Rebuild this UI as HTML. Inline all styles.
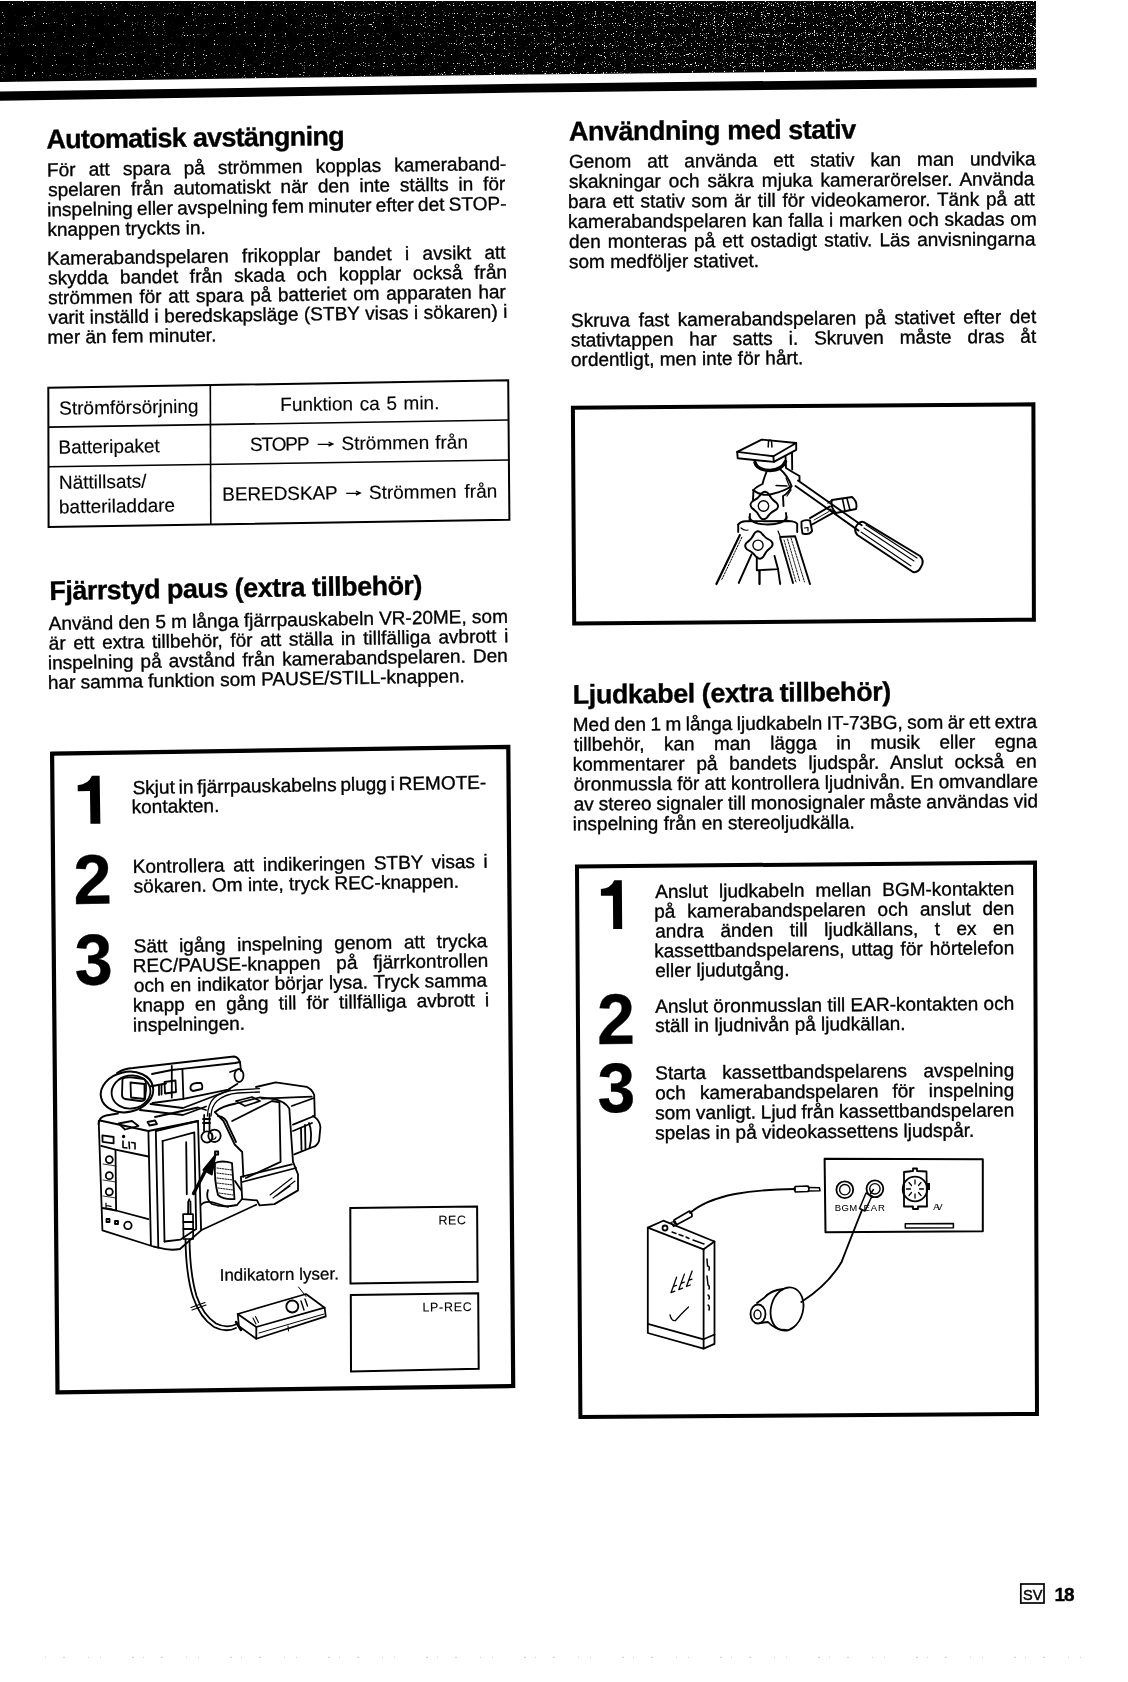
<!DOCTYPE html>
<html><head><meta charset="utf-8"><title>Page 18</title>
<style>
html,body{margin:0;padding:0;background:#fff;width:1128px;height:1682px;overflow:hidden}
svg{display:block;filter:grayscale(1)}
text{font-family:"Liberation Sans",sans-serif;fill:#000;white-space:pre;stroke:#000;stroke-width:0.35px}
</style></head><body>
<svg width="1128" height="1682" viewBox="0 0 1128 1682">
<!-- header band -->
<defs>
<linearGradient id="bandg" x1="0" y1="0" x2="1" y2="0">
<stop offset="0" stop-color="#000"/><stop offset="0.35" stop-color="#060606"/><stop offset="0.7" stop-color="#0f0f0f"/><stop offset="1" stop-color="#161616"/>
</linearGradient>
<clipPath id="bandclip"><polygon points="0,1 1036,1 1036,69.6 530,74.4 0,82"/></clipPath>
<filter id="spk" x="0" y="0" width="1036" height="82" filterUnits="userSpaceOnUse" color-interpolation-filters="sRGB">
<feTurbulence type="fractalNoise" baseFrequency="0.9" numOctaves="1" seed="11" result="n"/>
<feColorMatrix in="n" type="matrix" values="1 0 0 0 0  1 0 0 0 0  1 0 0 0 0  0 0 0 0 1" result="g"/>
<feComposite in="g" in2="SourceGraphic" operator="arithmetic" k1="0" k2="1" k3="1" k4="0" result="s"/>
<feColorMatrix in="s" type="matrix" values="0 0 0 0 1  0 0 0 0 1  0 0 0 0 1  12 0 0 0 -8.4"/>
</filter>
</defs>
<polygon points="0,1 1036,1 1036,69.6 530,74.4 0,82" fill="#000"/>
<g clip-path="url(#bandclip)"><rect x="0" y="0" width="1036" height="82" fill="url(#bandg)" filter="url(#spk)"/></g>
<polygon points="0,91.6 530,83.7 1036.7,78.1 1036.7,87.3 530,92.4 0,100.8" fill="#000"/>
<!-- table -->
<g fill="none" stroke="#000" stroke-width="2">
<polygon points="48.3,387.7 508.2,380.3 509.4,519.8 48.6,527.1"/>
<line x1="210.3" y1="385" x2="210.8" y2="524.5" stroke-width="1.6"/>
<line x1="48.4" y1="427.1" x2="508.6" y2="420" stroke-width="1.6"/>
<line x1="48.5" y1="466.8" x2="509" y2="460" stroke-width="1.6"/>
<path d="M317.7 444.3 L332 444.1 M328.5 442 L332.9 444.1 L328.5 446.2" stroke-width="1.3"/>
<path d="M346.2 493.3 L359.4 493.1 M355.9 491 L360.3 493.1 L355.9 495.2" stroke-width="1.3"/>
</g>
<!-- left steps box -->
<polygon points="52.1,753.7 508.3,746.8 513.2,1386 57.5,1392.3" fill="none" stroke="#000" stroke-width="4.2"/>
<!-- REC boxes -->
<g fill="none" stroke="#000" stroke-width="2">
<polygon points="350.3,1208.1 477.1,1206.5 477.6,1281.8 350.5,1283.6"/>
<polygon points="350.8,1295 478.2,1293.2 478.7,1368.7 351,1371.6"/>
</g>
<!-- tripod box -->
<polygon points="572.9,407.8 1033.4,404.3 1033.9,619.7 574.2,623.5" fill="none" stroke="#000" stroke-width="4"/>
<!-- right steps box -->
<polygon points="577,866.5 1035,862.5 1037,1413.9 580.4,1417" fill="none" stroke="#000" stroke-width="4"/>
<!-- footer SV box -->
<rect x="1020.8" y="1584" width="23.2" height="19" fill="none" stroke="#000" stroke-width="1.7"/>
<!-- digit 1 paths -->
<path d="M92.3 775.9 L100 775.9 L100 823.8 L90.1 823.8 L90.1 791 L77.9 791 L77.9 785 Q88.5 784.5 92.3 775.9 Z" transform="rotate(-0.86 89 800)"/>
<path d="M614.5 880.3 L622 880.3 L622 929.1 L613 929.1 L613 895.7 L601 895.7 L601 888.8 Q611 888.5 614.5 880.3 Z" transform="rotate(-0.46 611 905)"/>
<g id="tripod" fill="none" stroke="#000" stroke-width="1.9" stroke-linejoin="round" stroke-linecap="round">
<path d="M737.2 451.9 L761.7 439.6 L796.2 443 L773.4 456.2 Z"/>
<path d="M737.2 451.9 L737.7 458.3 L773.8 461.9 L796.2 449.8 L796.2 443"/>
<path d="M773.4 456.2 L773.8 461.9"/>
<path d="M768.2 447 L768.5 441.5 Q770 438.5 771.6 441.5 L771.9 447" stroke-width="1.5"/>
<path d="M755 462.5 Q757 470 770 470.5 Q782 470 785.5 461.5" stroke-width="3.4"/>
<path d="M785.5 456 L786 468 L792.5 472 L799.5 476 L799.5 481"/>
<path d="M792 453 L792.2 469.5"/>
<path d="M767 470.5 Q764 478 762.5 484 Q756 487 753.5 490 L753 500"/>
<path d="M780 469 Q788 476 791.5 486 Q789 493 783 496 L783.5 506"/>
<path d="M776 485.5 L787 486" stroke-width="1.3"/>
<path d="M753 490 Q762 497 772 494 Q785 491 791.5 486"/>
<path d="M786 478 L791 490 L787 496" stroke-width="1.2"/>
<path d="M768.5 493.7 Q771.2 499.5 776.6 502.9 Q779.8 506.6 776.1 509.7 Q770.3 512.4 766.9 517.8 Q763.2 521.0 760.1 517.3 Q757.4 511.5 752.0 508.1 Q748.8 504.4 752.5 501.3 Q758.3 498.6 761.7 493.2 Q765.4 490.0 768.5 493.7 Z" stroke-width="1.9"/>
<circle cx="763.5" cy="506" r="5.2" stroke-width="1.4"/>
<path d="M749.4 517 Q751 524.5 768 524.5 Q785 524 786.6 517" stroke-width="1.8"/>
<path d="M750 514 L749.5 520 M786 513 L786.6 519"/>
<path d="M738.2 524.5 Q741 521 746 521.3 L789 521 Q796 521.5 797.2 524 L797.2 532"/>
<path d="M738.2 524.5 L738.2 532"/>
<path d="M741 528 Q744 531 748 530" stroke-width="1.2"/>
<path d="M778 531 L780 536" stroke-width="1.2"/>
<path d="M761.2 532.7 Q764.8 538.0 770.6 540.5 Q774.3 543.6 771.2 547.3 Q765.9 550.9 763.4 556.7 Q760.3 560.4 756.6 557.3 Q753.0 552.0 747.2 549.5 Q743.5 546.4 746.6 542.7 Q751.9 539.1 754.4 533.3 Q757.5 529.6 761.2 532.7 Z" stroke-width="1.9"/>
<circle cx="758" cy="545.2" r="5.1" stroke-width="1.4"/>
<path d="M739.8 535.1 L716.4 584" stroke-width="2.2"/>
<path d="M741.9 537.2 L721.7 579.8" stroke-width="1" stroke-dasharray="1.6 1.4"/>
<path d="M751.5 554.3 L738.7 583"/>
<path d="M756.8 557 L756.8 570.2 L778 569.1 L774.5 556"/>
<path d="M759.5 571.3 L759.5 584" stroke-width="2.3"/>
<path d="M778 569.1 L780.2 584"/>
<path d="M780.2 538.3 L793 583"/>
<path d="M780 537 L795.1 536.2 L810 584"/>
<path d="M784 540 L796 582 M787.5 539 L800 582 M791 538 L804.5 582" stroke-width="0.9" stroke-dasharray="2 1.2"/>
<path d="M798 480.5 L861.7 525.3"/>
<path d="M795.5 486 L858.5 530.6"/>
<path d="M863.8 522.1 L920 556 Q925 561 921 567 Q918 573 913 572 L857.4 535 Q853 530 857 525 Q860 521 863.8 522.1 Z" stroke-width="2"/>
<path d="M864 528 L914 561 M861 532 L911 566 M866 525 L917 558" stroke-width="1.1"/>
<path d="M810 518.1 L830 506.4"/>
<path d="M812.1 524.5 L833 512.8"/>
<path d="M814 520 L829 511.5" stroke-width="0.9"/>
<path d="M801.5 521.5 Q806 519.5 810 520.5 L812.1 531 Q810 534.5 805 534 L802.5 533.5 Q801 527 801.5 521.5 Z"/>
<path d="M804.5 528 L808 527.5 L808 531" stroke-width="1.2"/>
<path d="M832 500 L852 497 Q858 502 856 509 L836 513 Q830 507 832 500 Z"/>
<path d="M842.5 499 L845 511 M847 498.5 L850 510" stroke-width="1.6"/>
<path d="M828 503 L832 500 M830 509 L836 513" stroke-width="1.3"/>
</g>
<g id="camcorder" fill="none" stroke="#000" stroke-width="1.8" stroke-linejoin="round" stroke-linecap="round">
<!-- eyecup -->
<ellipse cx="127" cy="1092" rx="26.5" ry="20" transform="rotate(-12 127 1092)" stroke-width="2"/>
<ellipse cx="131" cy="1092" rx="19.5" ry="16.5" transform="rotate(-10 131 1092)"/>
<path d="M122.5 1079 Q125 1077 133 1077.5 L144 1079 Q146.5 1080 146 1090 L145 1099 Q144 1101.5 140 1101 L125 1099 Q122 1098 122 1095 Z"/>
<path d="M130.5 1082.5 L144.5 1084 L144.5 1099 L131 1097.5 Z" stroke-width="1.8"/>
<!-- viewfinder tube -->
<path d="M117 1073 Q124 1068.5 133 1068 L234 1056.5 Q238 1057 240 1062 L241 1071"/>
<path d="M152 1074 L171.8 1070 L182.2 1068.8 L235.2 1063 L240 1062"/>
<path d="M171.8 1066 L171.8 1097.6"/>
<path d="M182.4 1068.8 L183.4 1098.8"/>
<path d="M152.5 1103 L183.4 1098.8 L228.3 1089.6 L237.5 1083.8"/>
<path d="M150 1086.5 L166 1083.5"/>
<path d="M164.5 1082 L175.5 1080.5 L176 1092 L165 1093.5 Z" stroke-width="1.8"/>
<path d="M159 1086 L159 1095 M161.5 1085 L161.5 1094.5"/>
<path d="M190.5 1087 Q191 1083.5 197 1083 L201 1083 Q203 1085.5 202 1089 L193 1091 Q190 1090.5 190.5 1087 Z"/>
<ellipse cx="239" cy="1075.5" rx="4.5" ry="6.5" stroke-width="1.8"/>
<path d="M230 1072 L236 1070"/>
<path d="M150.5 1104 L183 1108 L230 1090"/>
<path d="M140 1110 L183 1115 L206 1106.5"/>
<!-- body top -->
<path d="M98.5 1124 Q99 1117 106 1115.5 L118 1113.5"/>
<path d="M100 1120.5 L148.4 1131 L198 1121"/>
<path d="M118.6 1123.5 L132 1121 L138.5 1126 L125 1129.5 Z"/>
<path d="M147.5 1122 L155 1120.5 L157 1124 L149.5 1125.5 Z"/>
<path d="M155 1117 L198 1107.5 L206 1110"/>
<!-- body front panel -->
<path d="M98.7 1121 L102.4 1230.3 L153.3 1246.5 L158.3 1247.7 Q170 1251 180 1249 L201.1 1230.3" stroke-width="1.8"/>
<path d="M148.4 1131 L150.9 1245.2"/>
<path d="M155.8 1131 L158.3 1247.7"/>
<path d="M162.6 1141 L164.5 1241.5"/>
<path d="M155.8 1131 L198 1121 L201.1 1230.3" stroke-width="1.8"/>
<path d="M162.6 1141 L194.3 1132.3 L196.2 1229.1 L180.6 1239.6 L164.5 1241.5"/>
<path d="M186.2 1142.2 L186.8 1194.3"/>
<path d="M101.2 1145.9 L115.5 1149.6 L148.4 1156.5"/>
<path d="M115.5 1149.6 L116.1 1210.5 L148.4 1219.2"/>
<path d="M102.4 1208 L116.1 1210.5"/>
<path d="M102.4 1135.4 L113.6 1137 L113.6 1143.4 L102.6 1141.8 Z"/>
<path d="M123 1141 L123 1147.5 L127 1148 M129 1142 L129.5 1148.5 M131.5 1142.5 L135 1143 L135 1149" stroke-width="1.6"/>
<circle cx="123.6" cy="1136.5" r="0.8" fill="#000"/>
<circle cx="109.3" cy="1159.6" r="3.5"/>
<circle cx="109.3" cy="1175.7" r="3.5"/>
<circle cx="109.3" cy="1191.8" r="3.5" stroke-width="1.8"/>
<path d="M103 1164 L116 1166 M103 1180 L116 1182 M103 1196 L116 1198" stroke-width="0.8"/>
<path d="M106 1203 L106 1208 L112 1209 M106 1205.5 L111 1206.3" stroke-width="1.2"/>
<rect x="106.5" y="1219" width="3" height="3" />
<rect x="115" y="1221" width="3" height="3" />
<circle cx="127.9" cy="1225.4" r="3.7"/>
<!-- grip / lens block -->
<path d="M256 1087 L275.7 1082.4 L306.7 1086.8 Q312 1089 314.2 1095 L314.8 1116"/>
<path d="M262 1098.6 L311.7 1096.7"/>
<path d="M291.8 1106 L314 1098"/>
<path d="M293 1124.6 L314.2 1116"/>
<path d="M293 1131 L312 1123"/>
<path d="M312.9 1116 Q320 1120 320.4 1127.1 L319.1 1140.8 Q317 1146 312.9 1147 L294.3 1154.4"/>
<path d="M301 1128 L301.5 1150 M305 1125 L305.5 1149 M309 1123 Q313 1133 309.5 1148"/>
<path d="M215 1112 Q222 1106 236 1103.5 L259.5 1097.5 L272 1098.6"/>
<path d="M207.4 1116 Q208 1104 214 1098 Q222 1091 236 1090 L259.5 1088.6" stroke-width="1.3"/>
<path d="M211 1116 Q211.5 1106 217 1101 Q225 1094 238 1093 L259.5 1092" stroke-width="1.3"/>
<path d="M214.9 1112.2 L223.5 1121 L234.7 1144.5 L242.2 1152 L243.4 1176.8"/>
<path d="M218 1116 Q226 1117 228 1125 L236 1142"/>
<path d="M232.2 1121 L272 1101 L279.4 1102.3 L280.6 1161.9 L245.9 1178"/>
<path d="M272 1098.6 Q285 1101 289.3 1108.5 L293 1161.9 L298 1174.3 L298 1190.4 L274.4 1204.1 L259.5 1205.3 L257 1200.4 L242.2 1199.1 L240.9 1176.8 L291.8 1164.4"/>
<path d="M242 1182 L296 1168"/>
<path d="M270 1195 L292 1178 M273 1198 L295 1181 M276 1196 L290 1186" stroke-width="1.1"/>
<path d="M236 1101 L252 1097 L260 1101 L245 1106 Z"/>
<!-- earphone jack / cable plug on top -->
<path d="M204.2 1115 L204 1131 M209.5 1114 L209.5 1131"/>
<path d="M203 1119 L210 1119 M203 1123 L210 1123"/>
<circle cx="207" cy="1137" r="5.6" stroke-width="1.7"/>
<circle cx="214.5" cy="1135.8" r="6.2"/>
<path d="M212 1133 L212 1139 Q215 1140 216 1137" stroke-width="1.1"/>
<rect x="215" y="1151.5" width="3.2" height="3.2"/>
<!-- arrow -->
<path d="M193.5 1193.5 L208 1166" stroke-width="3.4"/>
<path d="M203 1170 L216 1154 L212 1175 Z" fill="#000" stroke-width="1.2"/>
<!-- hatched pad -->
<path d="M215 1163 Q222 1160 232 1163 L234.5 1199 Q224 1200 218 1195 Q214 1180 215 1163 Z"/>
<path d="M217 1168 L232 1170 M217 1173 L232 1175 M217 1178 L233 1180 M217 1183 L233 1185 M218 1188 L233 1190 M219 1193 L233 1195" stroke-width="0.9" stroke-dasharray="1.5 1.2"/>
<path d="M201 1205 Q205 1200 215 1203 L228 1207"/>
<!-- lower right body edge -->
<path d="M201.1 1230.3 L256.3 1204.7"/>
<path d="M235 1181 L241 1190 M242 1199 L237 1205 Q222 1208 212 1204 Q205 1199 208 1190"/>
<!-- plug and cable -->
<path d="M189.3 1199.3 L188.2 1202 L188.1 1214 M190.4 1201.5 L190.6 1214.2"/>
<path d="M183.1 1214.2 L193 1214.2 L193.2 1239 L183.5 1239 Z" stroke-width="1.7"/>
<path d="M183.3 1222 L193 1222 M183.4 1229 L193.1 1229"/>
<path d="M185.5 1239.5 Q186 1275 193 1297 Q200 1318 214 1327 Q226 1333 236 1328"/>
<path d="M189.5 1239.5 Q190 1274 196.5 1296 Q203 1315 216 1323.5 Q227 1329 237 1324"/>
<path d="M191 1307.5 L205 1302.5 M192 1310 L206 1305" stroke-width="1.2"/>
<!-- remote -->
<path d="M237.7 1314 L306 1294 L324.6 1307.7 L325.8 1316.4 L256.3 1338.7 L239 1326.3 Z" stroke-width="1.7"/>
<path d="M237.7 1314 L256.3 1327 L324.6 1307.7"/>
<path d="M256.3 1327 L256.3 1338.7"/>
<path d="M259 1333 L324 1314 M288 1326 L288.5 1331" stroke-width="1"/>
<circle cx="292.3" cy="1306.5" r="6"/>
<path d="M301 1301 L304 1310 M305 1299 L307.5 1306" stroke-width="1.4"/>
<path d="M298.5 1287 L306 1296.5" stroke-width="1"/>
<path d="M253 1318 L256 1324 M255.5 1316.5 L258.5 1322.5" stroke-width="1.1"/>
<path d="M236 1322 L241 1330" stroke-width="2.5"/>
</g>
<g id="audio" fill="none" stroke="#000" stroke-width="1.8" stroke-linejoin="round" stroke-linecap="round">
<!-- connector panel -->
<path d="M824.6 1158.7 L982.8 1159.3 L982.8 1231.3 L825.5 1232.2 Z" stroke-width="2"/>
<circle cx="844.8" cy="1189.7" r="8.4" stroke-width="1.8"/>
<circle cx="844.8" cy="1189.7" r="5.2" stroke-width="1.4"/>
<circle cx="874.9" cy="1188.8" r="8.4" stroke-width="1.8"/>
<circle cx="874.9" cy="1188.8" r="5.2" stroke-width="1.4"/>
<path d="M904 1172 L913 1171 L913 1168.5 L917 1168.5 L917 1171 L926.5 1171.5 L927 1206.5 L918 1206.5 L918 1209 L913 1209 L913 1206.5 L904 1206.5 Z" stroke-width="1.8"/>
<circle cx="915" cy="1189" r="12.3" stroke-width="1.8"/>
<path d="M915 1180 L915 1184 M921 1182.5 L918.5 1185.5 M923.5 1189 L919.5 1189 M921 1195.5 L918.5 1192.5 M915 1198 L915 1194 M909 1195.5 L911.5 1192.5 M906.5 1189 L910.5 1189 M909 1182.5 L911.5 1185.5" stroke-width="1.3"/>
<rect x="927" y="1183" width="3" height="7" fill="#000" stroke="none"/>
<path d="M905.3 1223.8 L953.4 1223.6 L953.4 1227.8 L905.3 1228 Z" stroke-width="1.5"/>
<!-- BGM cable/plug -->
<path d="M795.3 1186.5 L808 1186 Q810 1188.5 808 1191.5 L795.5 1192 Q793.5 1189 795.3 1186.5 Z" stroke-width="1.7"/>
<path d="M808.5 1187.5 L819.5 1187.8 L820 1190.8 L808.5 1191" stroke-width="1.5"/>
<path d="M795 1189 Q760 1189.5 735 1194 Q705 1200 690 1213" stroke-width="1.9"/>
<path d="M674 1220 L689.5 1211 Q692.5 1213 692 1216.5 L677 1224.5 Q673 1223 674 1220 Z" stroke-width="1.7"/>
<path d="M671 1222.5 L675 1221 L677 1225 L673.5 1226.5 Z" stroke-width="1.3"/>
<!-- EAR cable/plug -->
<path d="M866 1193 L872 1196 L865 1211 L859.5 1208.5 Z" stroke-width="1.5"/>
<path d="M870.5 1193.5 L873.5 1189.5" stroke-width="1.5"/>
<path d="M862 1210 Q850 1240 841.7 1261.7 Q828 1285 801.3 1302" stroke-width="1.9"/>
<!-- earphone -->
<ellipse cx="787" cy="1309" rx="16" ry="22" transform="rotate(15 787 1309)" stroke-width="1.8"/>
<path d="M783 1289 Q771 1290 764 1298 L757 1303"/>
<path d="M786 1330 Q775 1330 768 1322 L760 1323"/>
<ellipse cx="758" cy="1314" rx="7.5" ry="9.5" stroke-width="1.8"/>
<ellipse cx="757.5" cy="1314.5" rx="3.5" ry="4.5" stroke-width="1.4"/>
<!-- cassette player -->
<path d="M647.8 1227.6 L663.3 1220.7 L714.5 1241.5 L703.6 1249.3 Z" stroke-width="1.8"/>
<path d="M647.8 1227.6 L647.8 1333 L703.6 1348.6 L714.5 1343.9 L714.5 1241.5" stroke-width="1.8"/>
<path d="M703.6 1249.3 L703.6 1348.6" stroke-width="1.8"/>
<path d="M647.8 1323.8 L703.6 1339.3 L714.5 1334.5"/>
<circle cx="665" cy="1228" r="2.5"/>
<path d="M672 1232 L676 1233.5 M679 1234.5 L683 1236 M686 1237 L689 1238.5 M693 1240 L704 1244" stroke-width="1.4"/>
<path d="M707 1259 L707.5 1266 Q710 1266 709 1270 M707 1276 L708 1285 Q710 1286 709 1289 M708 1295 Q710 1296 709 1299 M708 1305 Q710 1306 709 1310" stroke-width="1.5"/>
<path d="M671 1292.7 L676.6 1277.2 M678.8 1289.6 L684.4 1274.1 M686.5 1286.5 L692.1 1271 M671 1292.7 L674.8 1291.2 M678.8 1289.6 L682.6 1288.1 M686.5 1286.5 L690.3 1285 M673.2 1286.5 L676.5 1285.3 M681 1283.4 L684.3 1282.2 M688.7 1280.3 L692 1279.1" stroke-width="1.3"/>
<path d="M670 1315 Q671.5 1321.5 675.5 1320.5 Q682 1313 688.5 1307" stroke-width="1.3"/>
</g>

<line x1="45" y1="1657.3" x2="1110" y2="1657.3" stroke="#c8c8c8" stroke-width="1" stroke-dasharray="1 17 2 23 1 11 1 31 2 9"/>

<g class="txt">
<text x="46.40" y="148.60" transform="rotate(-0.688 46.40 148.60)" style="font-size:27px;font-weight:700;letter-spacing:-0.726px">Automatisk avstängning</text>
<text x="47.10" y="176.40" transform="rotate(-0.791 47.10 176.40)" style="font-size:19px;word-spacing:7.895px">För att spara på strömmen kopplas kameraband-</text>
<text x="48.20" y="196.30" transform="rotate(-0.791 48.20 196.30)" style="font-size:19px;word-spacing:4.612px">spelaren från automatiskt när den inte ställts in för</text>
<text x="47.30" y="216.20" transform="rotate(-0.791 47.30 216.20)" style="font-size:19px;word-spacing:-1.030px">inspelning eller avspelning fem minuter efter det STOP-</text>
<text x="47.40" y="236.10" transform="rotate(-0.791 47.40 236.10)" style="font-size:19px">knappen tryckts in.</text>
<text x="47.10" y="264.90" transform="rotate(-0.773 47.10 264.90)" style="font-size:19px;word-spacing:8.068px">Kamerabandspelaren frikopplar bandet i avsikt att</text>
<text x="48.20" y="284.60" transform="rotate(-0.773 48.20 284.60)" style="font-size:19px;word-spacing:6.405px">skydda bandet från skada och kopplar också från</text>
<text x="48.30" y="304.30" transform="rotate(-0.773 48.30 304.30)" style="font-size:19px;word-spacing:1.362px">strömmen för att spara på batteriet om apparaten har</text>
<text x="48.40" y="324.00" transform="rotate(-0.773 48.40 324.00)" style="font-size:19px;word-spacing:0.285px">varit inställd i beredskapsläge (STBY visas i sökaren) i</text>
<text x="47.49" y="343.70" transform="rotate(-0.773 47.49 343.70)" style="font-size:19px">mer än fem minuter.</text>
<text x="59.30" y="414.80" transform="rotate(-0.917 59.30 414.80)" style="font-size:19px;stroke-width:0.15px">Strömförsörjning</text>
<text x="58.50" y="453.80" transform="rotate(-0.917 58.50 453.80)" style="font-size:19px;stroke-width:0.15px">Batteripaket</text>
<text x="59.00" y="489.00" transform="rotate(-0.917 59.00 489.00)" style="font-size:19px;stroke-width:0.15px">Nättillsats/</text>
<text x="59.00" y="513.40" transform="rotate(-0.917 59.00 513.40)" style="font-size:19px;stroke-width:0.15px">batteriladdare</text>
<text x="280.30" y="411.10" transform="rotate(-0.688 280.30 411.10)" style="font-size:19px;stroke-width:0.15px;word-spacing:1.314px">Funktion ca 5 min.</text>
<text x="249.90" y="451.00" transform="rotate(-0.688 249.90 451.00)" style="font-size:19px;stroke-width:0.15px;letter-spacing:-1.097px">STOPP</text>
<text x="341.60" y="449.90" transform="rotate(-0.688 341.60 449.90)" style="font-size:19px;stroke-width:0.15px;word-spacing:0.715px">Strömmen från</text>
<text x="222.30" y="500.70" transform="rotate(-0.688 222.30 500.70)" style="font-size:19px;stroke-width:0.15px;letter-spacing:-0.085px">BEREDSKAP</text>
<text x="369.00" y="499.00" transform="rotate(-0.688 369.00 499.00)" style="font-size:19px;stroke-width:0.15px;word-spacing:2.615px">Strömmen från</text>
<text x="49.60" y="600.00" transform="rotate(-0.859 49.60 600.00)" style="font-size:27px;font-weight:700;letter-spacing:-0.552px">Fjärrstyd paus (extra tillbehör)</text>
<text x="48.80" y="630.00" transform="rotate(-0.917 48.80 630.00)" style="font-size:19px;word-spacing:-0.027px">Använd den 5 m långa fjärrpauskabeln VR-20ME, som</text>
<text x="48.88" y="649.65" transform="rotate(-0.917 48.88 649.65)" style="font-size:19px;word-spacing:2.347px">är ett extra tillbehör, för att ställa in tillfälliga avbrott i</text>
<text x="47.96" y="669.30" transform="rotate(-0.917 47.96 669.30)" style="font-size:19px;word-spacing:1.790px">inspelning på avstånd från kamerabandspelaren. Den</text>
<text x="48.04" y="688.95" transform="rotate(-0.917 48.04 688.95)" style="font-size:19px">har samma funktion som PAUSE/STILL-knappen.</text>
<text x="0" y="0" transform="translate(73.84 904.10) rotate(-0.859) scale(0.979 1)" style="font-size:70.29px;font-weight:700">2</text>
<text x="0" y="0" transform="translate(74.94 984.70) rotate(-0.859) scale(0.947 1)" style="font-size:72.00px;font-weight:700">3</text>
<text x="132.70" y="794.20" transform="rotate(-0.877 132.70 794.20)" style="font-size:19px;word-spacing:-1.504px">Skjut in fjärrpauskabelns plugg i REMOTE-</text>
<text x="131.78" y="813.30" transform="rotate(-0.877 131.78 813.30)" style="font-size:19px">kontakten.</text>
<text x="132.80" y="873.10" transform="rotate(-0.877 132.80 873.10)" style="font-size:19px;word-spacing:3.285px">Kontrollera att indikeringen STBY visas i</text>
<text x="133.88" y="892.70" transform="rotate(-0.877 133.88 892.70)" style="font-size:19px">sökaren. Om inte, tryck REC-knappen.</text>
<text x="133.80" y="952.60" transform="rotate(-0.877 133.80 952.60)" style="font-size:19px;word-spacing:6.286px">Sätt igång inspelning genom att trycka</text>
<text x="132.88" y="972.30" transform="rotate(-0.877 132.88 972.30)" style="font-size:19px;word-spacing:10.573px">REC/PAUSE-knappen på fjärrkontrollen</text>
<text x="133.96" y="992.00" transform="rotate(-0.877 133.96 992.00)" style="font-size:19px;word-spacing:0.442px">och en indikator börjar lysa. Tryck samma</text>
<text x="133.04" y="1011.70" transform="rotate(-0.877 133.04 1011.70)" style="font-size:19px;word-spacing:4.870px">knapp en gång till för tillfälliga avbrott i</text>
<text x="133.12" y="1031.40" transform="rotate(-0.877 133.12 1031.40)" style="font-size:19px">inspelningen.</text>
<text x="219.70" y="1280.90" transform="rotate(-0.688 219.70 1280.90)" style="font-size:17px;stroke-width:0.25px;word-spacing:0.265px">Indikatorn lyser.</text>
<text x="438.40" y="1224.50" transform="rotate(-0.573 438.40 1224.50)" style="font-size:12.5px;stroke-width:0.1px;letter-spacing:0.618px">REC</text>
<text x="422.40" y="1311.50" transform="rotate(-0.573 422.40 1311.50)" style="font-size:12.5px;stroke-width:0.1px;letter-spacing:0.717px">LP-REC</text>
<text x="834.80" y="1211.00" transform="rotate(-0.000 834.80 1211.00)" style="font-size:9.5px;stroke-width:0.05px;letter-spacing:0.337px">BGM</text>
<text x="863.40" y="1211.00" transform="rotate(-0.000 863.40 1211.00)" style="font-size:9.5px;stroke-width:0.05px;letter-spacing:0.964px">EAR</text>
<text x="933.20" y="1209.50" transform="rotate(-0.000 933.20 1209.50)" style="font-size:9px;stroke-width:0.05px;letter-spacing:-2.035px">AV</text>
<text x="569.00" y="140.50" transform="rotate(-0.418 569.00 140.50)" style="font-size:27px;font-weight:700;letter-spacing:-0.486px">Användning med stativ</text>
<text x="569.00" y="167.90" transform="rotate(-0.332 569.00 167.90)" style="font-size:19px;word-spacing:10.661px">Genom att använda ett stativ kan man undvika</text>
<text x="569.00" y="187.95" transform="rotate(-0.332 569.00 187.95)" style="font-size:19px;word-spacing:2.683px">skakningar och säkra mjuka kamerarörelser. Använda</text>
<text x="568.00" y="208.00" transform="rotate(-0.332 568.00 208.00)" style="font-size:19px;word-spacing:1.416px">bara ett stativ som är till för videokameror. Tänk på att</text>
<text x="568.00" y="228.05" transform="rotate(-0.332 568.00 228.05)" style="font-size:19px;word-spacing:0.425px">kamerabandspelaren kan falla i marken och skadas om</text>
<text x="569.00" y="248.10" transform="rotate(-0.332 569.00 248.10)" style="font-size:19px;word-spacing:1.808px">den monteras på ett ostadigt stativ. Läs anvisningarna</text>
<text x="569.00" y="268.15" transform="rotate(-0.332 569.00 268.15)" style="font-size:19px">som medföljer stativet.</text>
<text x="571.00" y="326.90" transform="rotate(-0.487 571.00 326.90)" style="font-size:19px;word-spacing:3.248px">Skruva fast kamerabandspelaren på stativet efter det</text>
<text x="571.00" y="346.55" transform="rotate(-0.487 571.00 346.55)" style="font-size:19px;word-spacing:10.634px">stativtappen har satts i. Skruven måste dras åt</text>
<text x="571.00" y="366.20" transform="rotate(-0.487 571.00 366.20)" style="font-size:19px">ordentligt, men inte för hårt.</text>
<text x="572.80" y="703.70" transform="rotate(-0.561 572.80 703.70)" style="font-size:27px;font-weight:700;letter-spacing:-0.445px">Ljudkabel (extra tillbehör)</text>
<text x="572.80" y="731.10" transform="rotate(-0.384 572.80 731.10)" style="font-size:19px;word-spacing:-0.791px">Med den 1 m långa ljudkabeln IT-73BG, som är ett extra</text>
<text x="573.80" y="750.95" transform="rotate(-0.384 573.80 750.95)" style="font-size:19px;word-spacing:14.113px">tillbehör, kan man lägga in musik eller egna</text>
<text x="572.80" y="770.80" transform="rotate(-0.384 572.80 770.80)" style="font-size:19px;word-spacing:6.414px">kommentarer på bandets ljudspår. Anslut också en</text>
<text x="573.80" y="790.65" transform="rotate(-0.384 573.80 790.65)" style="font-size:19px;word-spacing:-0.086px">öronmussla för att kontrollera ljudnivån. En omvandlare</text>
<text x="573.80" y="810.50" transform="rotate(-0.384 573.80 810.50)" style="font-size:19px;word-spacing:-0.376px">av stereo signaler till monosignaler måste användas vid</text>
<text x="572.80" y="830.35" transform="rotate(-0.384 572.80 830.35)" style="font-size:19px">inspelning från en stereoljudkälla.</text>
<text x="0" y="0" transform="translate(597.16 1044.00) rotate(-0.458) scale(0.951 1)" style="font-size:71.43px;font-weight:700">2</text>
<text x="0" y="0" transform="translate(597.85 1112.20) rotate(-0.458) scale(0.964 1)" style="font-size:70.14px;font-weight:700">3</text>
<text x="655.30" y="898.00" transform="rotate(-0.481 655.30 898.00)" style="font-size:19px;word-spacing:5.597px">Anslut ljudkabeln mellan BGM-kontakten</text>
<text x="654.30" y="917.75" transform="rotate(-0.481 654.30 917.75)" style="font-size:19px;word-spacing:6.544px">på kamerabandspelaren och anslut den</text>
<text x="655.30" y="937.50" transform="rotate(-0.481 655.30 937.50)" style="font-size:19px;word-spacing:11.241px">andra änden till ljudkällans, t ex en</text>
<text x="654.30" y="957.25" transform="rotate(-0.481 654.30 957.25)" style="font-size:19px;word-spacing:1.690px">kassettbandspelarens, uttag för hörtelefon</text>
<text x="655.30" y="977.00" transform="rotate(-0.481 655.30 977.00)" style="font-size:19px">eller ljudutgång.</text>
<text x="655.30" y="1012.80" transform="rotate(-0.481 655.30 1012.80)" style="font-size:19px;word-spacing:-0.024px">Anslut öronmusslan till EAR-kontakten och</text>
<text x="655.30" y="1032.00" transform="rotate(-0.481 655.30 1032.00)" style="font-size:19px">ställ in ljudnivån på ljudkällan.</text>
<text x="655.30" y="1079.40" transform="rotate(-0.481 655.30 1079.40)" style="font-size:19px;word-spacing:11.016px">Starta kassettbandspelarens avspelning</text>
<text x="655.30" y="1099.40" transform="rotate(-0.481 655.30 1099.40)" style="font-size:19px;word-spacing:8.751px">och kamerabandspelaren för inspelning</text>
<text x="655.30" y="1119.40" transform="rotate(-0.481 655.30 1119.40)" style="font-size:19px;word-spacing:-0.562px">som vanligt. Ljud från kassettbandspelaren</text>
<text x="655.30" y="1139.40" transform="rotate(-0.481 655.30 1139.40)" style="font-size:19px">spelas in på videokassettens ljudspår.</text>
<text x="1023.00" y="1599.80" transform="rotate(-0.000 1023.00 1599.80)" style="font-size:14.5px;stroke-width:0.45px">SV</text>
<text x="1054.40" y="1601.20" transform="rotate(-0.000 1054.40 1601.20)" style="font-size:19px;font-weight:700;letter-spacing:-0.967px">18</text>
</g>
</svg>
</body></html>
